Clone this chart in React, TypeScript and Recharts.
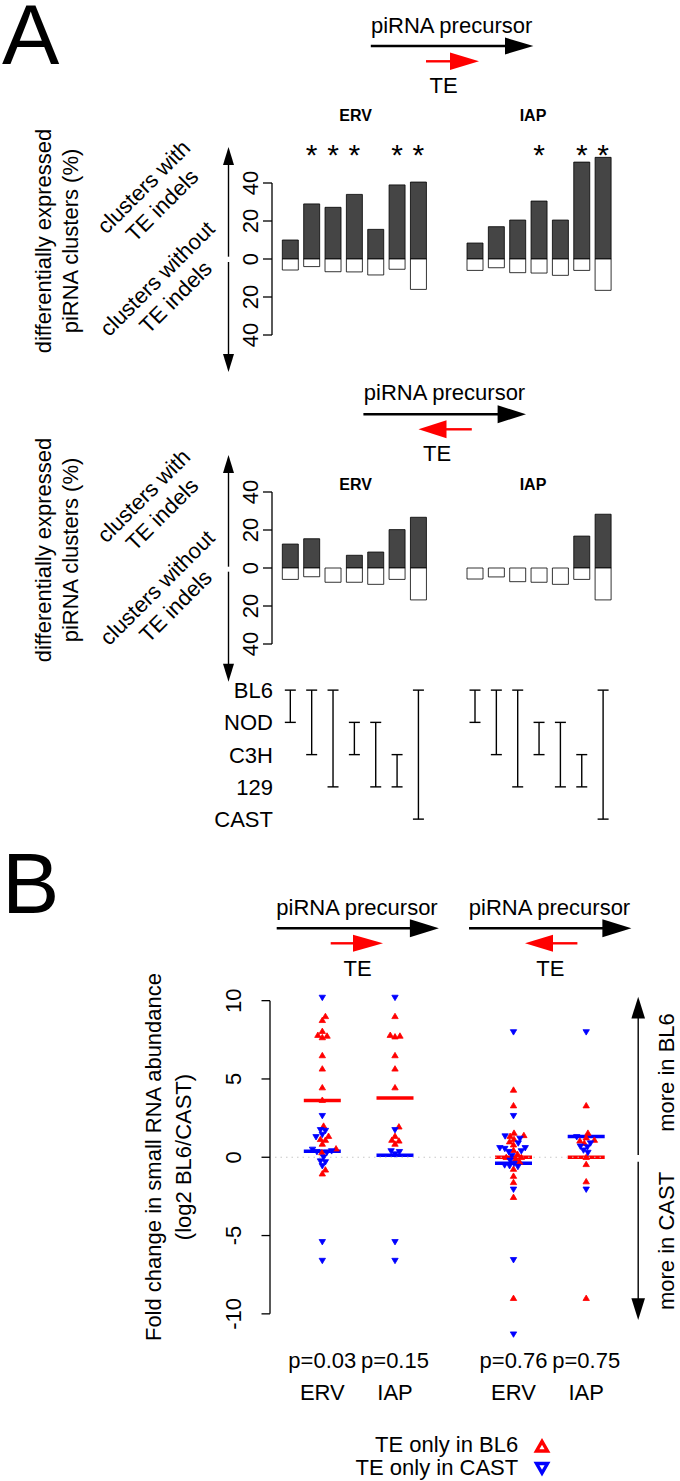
import React from "react";
import {
  BarChart,
  Bar,
  XAxis,
  YAxis,
  ReferenceLine,
  LabelList,
  ScatterChart,
  Scatter,
} from "recharts";

const FONT = "'Liberation Sans', Arial, Helvetica, sans-serif";
const RED = "#ff0000";
const BLUE = "#0000ff";
const BAR_DARK = "#454545";

// ---- panel A data ----
const strains = ["BL6", "NOD", "C3H", "129", "CAST"];
const comparisons: [string, string][] = [
  ["BL6", "NOD"],
  ["BL6", "C3H"],
  ["BL6", "129"],
  ["NOD", "C3H"],
  ["NOD", "129"],
  ["C3H", "129"],
  ["BL6", "CAST"],
];
const families = ["ERV", "IAP"];
const pctTicks = [-40, -20, 0, 20, 40];

// TE in the same orientation as the piRNA precursor (% of clusters)
const senseErvWith = [10, 29, 27.2, 34, 15.6, 39, 40.5];
const senseErvWithout = [5.8, 4, 6.7, 6.8, 8.4, 5.4, 16];
const senseIapWith = [8.4, 17, 20.5, 30.5, 20.5, 51, 53.5];
const senseIapWithout = [6, 4.6, 7.2, 7.4, 8.6, 6, 16.5];
const senseErvSig = [false, true, true, true, false, true, true];
const senseIapSig = [false, false, false, true, false, true, true];

// TE antisense to the precursor
const antiErvWith = [12.6, 15.4, 0, 6.7, 8.4, 20.2, 26.7];
const antiErvWithout = [6, 4.6, 7.5, 7.5, 8.6, 6, 16.8];
const antiIapWith = [0, 0, 0, 0, 0, 16.8, 28.3];
const antiIapWithout = [5.8, 4.7, 7.2, 7.5, 8.6, 6, 16.8];
const noSig = [false, false, false, false, false, false, false];

// ---- panel B data: log2 BL6/CAST small RNA fold change ----
const senseErvBL6 = [9.0, 8.75, 8.05, 7.8, 7.75, 7.65, 6.5, 5.65, 4.45, 3.65, 2.0, 1.35, 1.15, 1.1, 0.85, 0.55, 0.3, -0.8, -1.05];
const senseErvCAST = [10.2, 2.65, 1.75, 1.7, 1.45, 1.3, 0.5, 0.4, 0.35, 0.3, 0.0, -0.25, -0.3, -0.55, -5.4, -6.6];
const senseIapBL6 = [9.0, 7.8, 7.75, 7.7, 6.5, 5.65, 4.45, 1.95, 1.35, 1.1, 1.05, 0.85];
const senseIapCAST = [10.2, 1.75, 0.4, 0.35, 0.2, -5.4, -6.6];
const antiErvBL6 = [4.3, 3.3, 1.55, 1.4, 1.35, 1.15, 1.0, 0.8, 0.45, 0.2, 0.0, 0.0, -0.1, -0.3, -0.75, -1.2, -1.6, -2.55, -9.0];
const antiErvCAST = [8.0, 2.65, 1.35, 1.2, 0.9, 0.6, 0.6, 0.55, 0.4, 0.35, 0.1, -0.2, -0.4, -0.5, -0.6, -0.55, -2.05, -6.55, -11.3];
const antiIapBL6 = [3.3, 1.55, 1.25, 1.1, 1.05, 0.9, 0.0, -0.45, -1.55, -9.0];
const antiIapCAST = [8.0, 1.3, 0.9, 0.7, 0.65, 0.45, 0.3, -2.05];

const bl6Centers = [3.62, 3.78, 0.0, 0.0];
const castCenters = [0.38, 0.13, -0.38, 1.33];
const pValues = ["p=0.03", "p=0.15", "p=0.76", "p=0.75"];
const groupNames = ["ERV", "IAP", "ERV", "IAP"];
const foldTicks = [-10, -5, 0, 5, 10];

// ---- layout ----
const A_X0 = 290; // page x of the first bar
const A_STEP = 21.35;
const IAP_SHIFT = 8.65;
const A_AXIS_X = 272;
const A_RIGHT = 625;
const A_YAXIS_W = 60;
const A_XMIN = (A_AXIS_X - A_X0) / A_STEP;
const A_XMAX = (A_RIGHT - A_X0) / A_STEP;
const A_TOP_PAD = 12;
const PCT_PX = 1.9;
const PCT_MIN = -50;
const PCT_MAX = 60;

const ROW_Y0 = 690;
const ROW_STEP = 32.25;
const ROW_PAD = 0.5;

const B_COLS = [1, 2, 3.63, 4.63];
const B_X1 = 322.3;
const B_STEP = 72.7;
const B_AXIS_X = 270;
const B_RIGHT = 645;
const B_YAXIS_W = 60;
const B_XMIN = 1 + (B_AXIS_X - B_X1) / B_STEP;
const B_XMAX = 1 + (B_RIGHT - B_X1) / B_STEP;
const B_ZERO = 1157.7;
const B_PX = 15.66;
const B_MIN = -12;
const B_MAX = 11;
const B_XAXIS_H = 70;

// beeswarm: place points in ascending order as close to the column centre as possible
function swarm(values: number[], pxPerUnit: number, d: number): number[] {
  const order = values.map((_, i) => i).sort((a, b) => values[a] - values[b]);
  const placed: { x: number; y: number }[] = [];
  const out = new Array(values.length).fill(0);
  for (const i of order) {
    const y = values[i] * pxPerUnit;
    const blocks: [number, number][] = [];
    for (const p of placed) {
      const dy = Math.abs(p.y - y);
      if (dy < d) {
        const w = Math.sqrt(d * d - dy * dy);
        blocks.push([p.x - w, p.x + w]);
      }
    }
    const cands = [0, ...blocks.flat()].sort((a, b) => Math.abs(a) - Math.abs(b) || b - a);
    const x =
      cands.find((c) => blocks.every(([lo, hi]) => c <= lo + 1e-6 || c >= hi - 1e-6)) ?? 0;
    placed.push({ x, y });
    out[i] = x;
  }
  return out;
}

const Txt = ({
  x,
  y,
  children,
  size = 22,
  anchor = "middle",
  rotate = 0,
  bold = false,
}: any) => (
  <text
    x={x}
    y={y}
    fontSize={size}
    fontFamily={FONT}
    fontWeight={bold ? "bold" : "normal"}
    textAnchor={anchor}
    fill="#000"
    transform={rotate ? `rotate(${rotate} ${x} ${y})` : undefined}
  >
    {children}
  </text>
);

function HArrow({ from, to, y, color = "#000", head = 28, half = 8.6, w = 2.4 }: any) {
  const dir = Math.sign(to - from);
  const base = to - dir * head;
  return (
    <g>
      <line x1={from} y1={y} x2={base + dir} y2={y} stroke={color} strokeWidth={w} />
      <polygon points={`${base},${y - half} ${to},${y} ${base},${y + half}`} fill={color} />
    </g>
  );
}

function VArrow({ from, to, x, head = 18, half = 5.5, w = 1.4 }: any) {
  const dir = Math.sign(to - from);
  const base = to - dir * head;
  return (
    <g>
      <line x1={x} y1={from} x2={x} y2={base + dir} stroke="#000" strokeWidth={w} />
      <polygon points={`${x - half},${base} ${x},${to} ${x + half},${base}`} fill="#000" />
    </g>
  );
}

// y title and side labels of one panel-A bar block
function BlockLabels({ zeroY }: { zeroY: number }) {
  const mid = zeroY - 18;
  const w = zeroY - 66.8;
  const wo = zeroY + 25;
  return (
    <g>
      <Txt x={51} y={mid} rotate={-90}>differentially expressed</Txt>
      <Txt x={78} y={mid} rotate={-90}>piRNA clusters (%)</Txt>
      <Txt x={149} y={w} rotate={-45}>clusters with</Txt>
      <Txt x={167.4} y={w + 18.4} rotate={-45}>TE indels</Txt>
      <Txt x={162.5} y={wo} rotate={-45}>clusters without</Txt>
      <Txt x={180.9} y={wo + 18.4} rotate={-45}>TE indels</Txt>
    </g>
  );
}

function Annotations() {
  return (
    <svg
      width={680}
      height={1481}
      style={{ position: "absolute", left: 0, top: 0 }}
    >
      <Txt x={2} y={64} size={86} anchor="start">A</Txt>

      {/* sense orientation */}
      <Txt x={451.6} y={33}>piRNA precursor</Txt>
      <HArrow from={370.8} to={533.4} y={46} head={28.4} half={8.5} />
      <HArrow from={426} to={479} y={61.3} color={RED} head={29} half={8.7} />
      <Txt x={443.5} y={93.3}>TE</Txt>
      <Txt x={355.6} y={120.7} size={16} bold>{families[0]}</Txt>
      <Txt x={533} y={120.7} size={16} bold>{families[1]}</Txt>
      <BlockLabels zeroY={259} />
      <VArrow x={228.5} from={256.7} to={147} />
      <VArrow x={228.5} from={262} to={372} />

      {/* antisense orientation */}
      <Txt x={444.5} y={400}>piRNA precursor</Txt>
      <HArrow from={363.4} to={526} y={414.3} head={28.4} half={9} />
      <HArrow from={471.8} to={418.5} y={429.3} color={RED} head={28} half={9} />
      <Txt x={437} y={460.7}>TE</Txt>
      <Txt x={355.6} y={490} size={16} bold>{families[0]}</Txt>
      <Txt x={533} y={490} size={16} bold>{families[1]}</Txt>
      <BlockLabels zeroY={568} />
      <VArrow x={228.5} from={566.7} to={455} />
      <VArrow x={228.5} from={571.7} to={681.7} />

      {/* panel B */}
      <Txt x={2} y={913} size={86} anchor="start">B</Txt>
      <Txt x={357} y={915}>piRNA precursor</Txt>
      <HArrow from={276.7} to={438.9} y={928.3} head={29} half={9} />
      <HArrow from={330.7} to={383} y={943.3} color={RED} head={30} half={8.5} />
      <Txt x={357.5} y={976}>TE</Txt>
      <Txt x={549.5} y={915}>piRNA precursor</Txt>
      <HArrow from={469} to={631.4} y={928.3} head={29} half={9} />
      <HArrow from={577.4} to={525} y={943.3} color={RED} head={28} half={8.5} />
      <Txt x={550.3} y={976}>TE</Txt>

      <Txt x={160.5} y={1157} rotate={-90}>Fold change in small RNA abundance</Txt>
      <Txt x={191} y={1157} rotate={-90}>(log2 BL6/CAST)</Txt>

      <VArrow x={638.2} from={1155} to={996.7} head={21.7} half={6.8} />
      <VArrow x={638.2} from={1161.7} to={1320} head={21.7} half={6.8} />
      <Txt x={674} y={1072.5} rotate={-90}>more in BL6</Txt>
      <Txt x={674} y={1241} rotate={-90}>more in CAST</Txt>

      <Txt x={518.2} y={1451.7} anchor="end">TE only in BL6</Txt>
      <polygon
        points="536.5,1451 547.5,1451 542,1441.5"
        fill="#fff"
        stroke={RED}
        strokeWidth={3.4}
        strokeLinejoin="miter"
      />
      <Txt x={518.2} y={1475} anchor="end">TE only in CAST</Txt>
      <polygon
        points="536.5,1463.5 547.5,1463.5 542,1473"
        fill="#fff"
        stroke={BLUE}
        strokeWidth={3.4}
        strokeLinejoin="miter"
      />
    </svg>
  );
}

const PctTick = (p: any) => (
  <text
    x={p.x}
    y={p.y}
    transform={`rotate(-90 ${p.x} ${p.y})`}
    textAnchor="middle"
    fontSize={22}
    fontFamily={FONT}
    fill="#000"
  >
    {Math.abs(p.payload.value)}
  </text>
);

const FoldTick = (p: any) => (
  <text
    x={p.x}
    y={p.y}
    transform={`rotate(-90 ${p.x} ${p.y})`}
    textAnchor="middle"
    fontSize={22}
    fontFamily={FONT}
    fill="#000"
  >
    {String(p.payload.value)}
  </text>
);

const StrainTick = (p: any) => (
  <text x={p.x + 1} y={p.y + 8} textAnchor="end" fontSize={22} fontFamily={FONT} fill="#000">
    {strains[p.payload.value]}
  </text>
);

const GroupTick = (p: any) => {
  const i = B_COLS.indexOf(p.payload.value);
  return (
    <g>
      <text x={p.x} y={p.y + 22.4} textAnchor="middle" fontSize={22} fontFamily={FONT} fill="#000">
        {pValues[i]}
      </text>
      <text x={p.x} y={p.y + 54.4} textAnchor="middle" fontSize={22} fontFamily={FONT} fill="#000">
        {groupNames[i]}
      </text>
    </g>
  );
};

const starLabel = (baseY: number) => (props: any) => {
  const { x, width, value, viewBox } = props;
  if (!value) return null;
  const bx = viewBox ? viewBox.x + viewBox.width / 2 : x + width / 2;
  return (
    <text x={bx} y={baseY} textAnchor="middle" fontSize={30} fontFamily={FONT} fill="#000">
      *
    </text>
  );
};

function ClusterBars({ zeroY, ervWith, ervWithout, iapWith, iapWithout, ervSig, iapSig }: any) {
  const rows = [
    ...ervWith.map((v: number, i: number) => ({
      pos: i,
      with: v,
      without: -ervWithout[i],
      sig: ervSig[i] ? "*" : "",
    })),
    ...iapWith.map((v: number, i: number) => ({
      pos: i + IAP_SHIFT,
      with: v,
      without: -iapWithout[i],
      sig: iapSig[i] ? "*" : "",
    })),
  ];
  const top = zeroY - PCT_MAX * PCT_PX - A_TOP_PAD;
  return (
    <div style={{ position: "absolute", left: A_AXIS_X - A_YAXIS_W, top }}>
      <BarChart
        width={A_YAXIS_W + A_RIGHT - A_AXIS_X}
        height={(PCT_MAX - PCT_MIN) * PCT_PX + A_TOP_PAD}
        data={rows}
        margin={{ top: A_TOP_PAD, right: 0, bottom: 0, left: 0 }}
        stackOffset="sign"
      >
        <XAxis type="number" dataKey="pos" domain={[A_XMIN, A_XMAX]} allowDataOverflow hide />
        <YAxis
          type="number"
          domain={[PCT_MIN, PCT_MAX]}
          ticks={pctTicks}
          interval={0}
          allowDataOverflow
          width={A_YAXIS_W}
          axisLine={false}
          stroke="#000"
          tickLine={{ stroke: "#000", strokeWidth: 1.3 }}
          tickSize={9}
          tickMargin={5}
          tick={PctTick}
        />
        <ReferenceLine
          segment={[
            { x: A_XMIN, y: -40 },
            { x: A_XMIN, y: 40 },
          ]}
          stroke="#000"
          strokeWidth={1.3}
        />
        <Bar dataKey="with" stackId="s" barSize={16} fill={BAR_DARK} stroke="#000" strokeWidth={0.8} isAnimationActive={false}>
          <LabelList dataKey="sig" content={starLabel(164.8 - top)} />
        </Bar>
        <Bar dataKey="without" stackId="s" barSize={16} fill="#fff" stroke="#000" strokeWidth={0.8} isAnimationActive={false} />
      </BarChart>
    </div>
  );
}

const Bracket = (p: any) => {
  const cx = p.x + p.width / 2;
  const y0 = Math.min(p.y, p.y + p.height);
  const y1 = Math.max(p.y, p.y + p.height);
  return (
    <g stroke="#000" strokeWidth={1.4}>
      <line x1={cx} y1={y0} x2={cx} y2={y1} />
      <line x1={cx - 5.5} y1={y0} x2={cx + 5.5} y2={y0} />
      <line x1={cx - 5.5} y1={y1} x2={cx + 5.5} y2={y1} />
    </g>
  );
};

function StrainPairs() {
  const rows = [0, 1].flatMap((f) =>
    comparisons.map(([a, b], i) => ({
      pos: i + f * IAP_SHIFT,
      span: [strains.indexOf(a), strains.indexOf(b)],
    }))
  );
  return (
    <div style={{ position: "absolute", left: A_AXIS_X - A_YAXIS_W, top: ROW_Y0 - ROW_PAD * ROW_STEP }}>
      <BarChart
        width={A_YAXIS_W + A_RIGHT - A_AXIS_X}
        height={(4 + 2 * ROW_PAD) * ROW_STEP}
        data={rows}
        margin={{ top: 0, right: 0, bottom: 0, left: 0 }}
      >
        <XAxis type="number" dataKey="pos" domain={[A_XMIN, A_XMAX]} allowDataOverflow hide />
        <YAxis
          type="number"
          reversed
          domain={[-ROW_PAD, 4 + ROW_PAD]}
          ticks={[0, 1, 2, 3, 4]}
          interval={0}
          allowDataOverflow
          width={A_YAXIS_W}
          axisLine={false}
          tickLine={false}
          tickSize={0}
          tickMargin={0}
          tick={StrainTick}
        />
        <Bar dataKey="span" barSize={10} shape={Bracket} isAnimationActive={false} />
      </BarChart>
    </div>
  );
}

const UpTri = (p: any) => (
  <polygon
    points={`${p.cx - 3.2},${p.cy + 2.3} ${p.cx + 3.2},${p.cy + 2.3} ${p.cx},${p.cy - 3.1}`}
    fill={RED}
    stroke={RED}
    strokeWidth={0.8}
  />
);

const DownTri = (p: any) => (
  <polygon
    points={`${p.cx - 3.2},${p.cy - 2.3} ${p.cx + 3.2},${p.cy - 2.3} ${p.cx},${p.cy + 3.1}`}
    fill={BLUE}
    stroke={BLUE}
    strokeWidth={0.8}
  />
);

function FoldChange() {
  const columns = [
    { bl6: senseErvBL6, cast: senseErvCAST },
    { bl6: senseIapBL6, cast: senseIapCAST },
    { bl6: antiErvBL6, cast: antiErvCAST },
    { bl6: antiIapBL6, cast: antiIapCAST },
  ];
  const bl6Pts: { x: number; y: number }[] = [];
  const castPts: { x: number; y: number }[] = [];
  columns.forEach((c, k) => {
    const vals = [...c.bl6, ...c.cast];
    const offs = swarm(vals, B_PX, 5);
    vals.forEach((v, i) => {
      const pt = { x: B_COLS[k] + offs[i] / B_STEP, y: v };
      (i < c.bl6.length ? bl6Pts : castPts).push(pt);
    });
  });
  const half = 18.5 / B_STEP;
  return (
    <div style={{ position: "absolute", left: B_AXIS_X - B_YAXIS_W, top: B_ZERO - B_MAX * B_PX }}>
      <ScatterChart
        width={B_YAXIS_W + B_RIGHT - B_AXIS_X}
        height={(B_MAX - B_MIN) * B_PX + B_XAXIS_H}
        margin={{ top: 0, right: 0, bottom: 0, left: 0 }}
      >
        <XAxis
          type="number"
          dataKey="x"
          domain={[B_XMIN, B_XMAX]}
          allowDataOverflow
          ticks={B_COLS}
          interval={0}
          height={B_XAXIS_H}
          axisLine={false}
          tickLine={false}
          tickSize={0}
          tickMargin={0}
          tick={GroupTick}
        />
        <YAxis
          type="number"
          dataKey="y"
          domain={[B_MIN, B_MAX]}
          ticks={foldTicks}
          interval={0}
          allowDataOverflow
          width={B_YAXIS_W}
          axisLine={false}
          stroke="#000"
          tickLine={{ stroke: "#000", strokeWidth: 1.3 }}
          tickSize={8.5}
          tickMargin={20.5}
          tick={FoldTick}
        />
        <ReferenceLine
          segment={[
            { x: B_XMIN, y: -10 },
            { x: B_XMIN, y: 10 },
          ]}
          stroke="#000"
          strokeWidth={1.3}
        />
        <Scatter data={bl6Pts} shape={UpTri} isAnimationActive={false} />
        <Scatter data={castPts} shape={DownTri} isAnimationActive={false} />
        {B_COLS.map((c, k) => (
          <ReferenceLine
            key={`r${k}`}
            segment={[
              { x: c - half, y: bl6Centers[k] },
              { x: c + half, y: bl6Centers[k] },
            ]}
            stroke={RED}
            strokeWidth={3.5}
          />
        ))}
        {B_COLS.map((c, k) => (
          <ReferenceLine
            key={`b${k}`}
            segment={[
              { x: c - half, y: castCenters[k] },
              { x: c + half, y: castCenters[k] },
            ]}
            stroke={BLUE}
            strokeWidth={3.5}
          />
        ))}
        <ReferenceLine
          segment={[
            { x: 1 + (275 - B_X1) / B_STEP, y: 0 },
            { x: 1 + (605 - B_X1) / B_STEP, y: 0 },
          ]}
          stroke="#c8c8c8"
          strokeWidth={1.2}
          strokeDasharray="1.5 4"
        />
      </ScatterChart>
    </div>
  );
}

export default function App() {
  return (
    <div
      style={{
        position: "absolute",
        left: 0,
        top: 0,
        width: 680,
        height: 1481,
        background: "#fff",
        overflow: "hidden",
      }}
    >
      <Annotations />
      <ClusterBars
        zeroY={259}
        ervWith={senseErvWith}
        ervWithout={senseErvWithout}
        iapWith={senseIapWith}
        iapWithout={senseIapWithout}
        ervSig={senseErvSig}
        iapSig={senseIapSig}
      />
      <ClusterBars
        zeroY={568}
        ervWith={antiErvWith}
        ervWithout={antiErvWithout}
        iapWith={antiIapWith}
        iapWithout={antiIapWithout}
        ervSig={noSig}
        iapSig={noSig}
      />
      <StrainPairs />
      <FoldChange />
    </div>
  );
}
